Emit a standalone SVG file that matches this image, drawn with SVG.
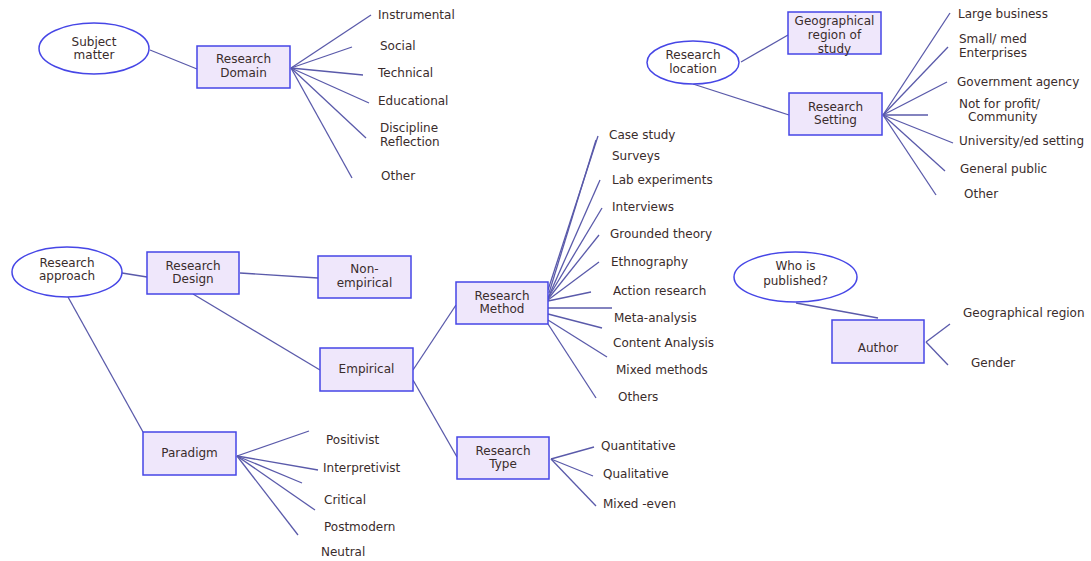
<svg xmlns="http://www.w3.org/2000/svg" width="1091" height="561" viewBox="0 0 1091 561">
<style>
text{font-family:"DejaVu Sans","Liberation Sans",sans-serif;font-size:12px;fill:#3a2c2c}
.c{text-anchor:middle}
.box{fill:#efe7fb;stroke:#4646e6;stroke-width:1.5}
.ell{fill:#ffffff;stroke:#4646e6;stroke-width:1.5}
.ln line{stroke:#5a5aaa;stroke-width:1.3}
</style>
<rect width="1091" height="561" fill="#ffffff"/>
<g id="connectors" class="ln">
<line x1="150" y1="50" x2="197" y2="69"/>
<line x1="291" y1="68" x2="371" y2="15"/>
<line x1="291" y1="68" x2="352" y2="47"/>
<line x1="291" y1="68" x2="363" y2="75"/>
<line x1="291" y1="68" x2="369" y2="103"/>
<line x1="291" y1="68" x2="366" y2="138"/>
<line x1="291" y1="68" x2="352" y2="178"/>
<line x1="741" y1="62" x2="788" y2="35"/>
<line x1="693" y1="84" x2="789" y2="115"/>
<line x1="883" y1="115" x2="950" y2="13"/>
<line x1="883" y1="115" x2="948" y2="47"/>
<line x1="883" y1="115" x2="947" y2="82"/>
<line x1="883" y1="115" x2="928" y2="115"/>
<line x1="883" y1="115" x2="953" y2="143"/>
<line x1="883" y1="115" x2="945" y2="171"/>
<line x1="883" y1="115" x2="936" y2="195"/>
<line x1="122" y1="273" x2="147" y2="277"/>
<line x1="240" y1="273" x2="318" y2="278"/>
<line x1="193" y1="294" x2="320" y2="370"/>
<line x1="68" y1="297" x2="143" y2="432"/>
<line x1="413" y1="370" x2="456" y2="305"/>
<line x1="413" y1="380" x2="457" y2="457"/>
<line x1="237" y1="456" x2="309" y2="431"/>
<line x1="237" y1="456" x2="318" y2="470"/>
<line x1="237" y1="456" x2="302" y2="483"/>
<line x1="237" y1="456" x2="315" y2="510"/>
<line x1="237" y1="456" x2="298" y2="535"/>
<line x1="551" y1="459" x2="594" y2="447"/>
<line x1="551" y1="459" x2="593" y2="476"/>
<line x1="551" y1="459" x2="596" y2="506"/>
<line x1="548" y1="290" x2="598" y2="136"/>
<line x1="549" y1="293" x2="596" y2="140"/>
<line x1="548" y1="298" x2="600" y2="180"/>
<line x1="548" y1="298" x2="602" y2="208"/>
<line x1="548" y1="299" x2="599" y2="235"/>
<line x1="548" y1="300" x2="599" y2="262"/>
<line x1="548" y1="301" x2="591" y2="292"/>
<line x1="548" y1="308" x2="612" y2="308"/>
<line x1="548" y1="314" x2="602" y2="328"/>
<line x1="548" y1="320" x2="607" y2="357"/>
<line x1="548" y1="324" x2="596" y2="398"/>
<line x1="796" y1="303" x2="878" y2="318"/>
<line x1="926" y1="342" x2="950" y2="324"/>
<line x1="926" y1="342" x2="948" y2="365"/>
</g>
<g id="subject-matter"><ellipse class="ell" cx="94" cy="48.5" rx="55" ry="25.5"/><text class="c" x="94" y="46">Subject</text><text class="c" x="94" y="59">matter</text></g>
<g id="research-domain"><rect class="box" x="197" y="46" width="93" height="42"/><text class="c" x="243.5" y="63">Research</text><text class="c" x="243.5" y="77">Domain</text></g>
<g id="domain-leaves">
<text x="378" y="19">Instrumental</text>
<text x="380" y="50">Social</text>
<text x="378" y="77">Technical</text>
<text x="378" y="105">Educational</text>
<text x="380" y="132">Discipline</text>
<text x="380" y="146">Reflection</text>
<text x="381" y="180">Other</text>
</g>
<g id="research-location"><ellipse class="ell" cx="693" cy="62.5" rx="46" ry="21.5"/><text class="c" x="693" y="59">Research</text><text class="c" x="693" y="73">location</text></g>
<g id="geo-region"><rect class="box" x="788" y="12" width="93" height="42"/><text class="c" x="834.5" y="25">Geographical</text><text class="c" x="834.5" y="39">region of</text><text class="c" x="834.5" y="53">study</text></g>
<g id="research-setting"><rect class="box" x="789" y="93" width="93" height="42"/><text class="c" x="835.5" y="111">Research</text><text class="c" x="835.5" y="124">Setting</text></g>
<g id="setting-leaves">
<text x="958" y="18">Large business</text>
<text x="959" y="43">Small/ med</text>
<text x="959" y="57">Enterprises</text>
<text x="957" y="86">Government agency</text>
<text x="959" y="108">Not for profit/</text>
<text x="968" y="121">Community</text>
<text x="959" y="145">University/ed setting</text>
<text x="960" y="173">General public</text>
<text x="964" y="198">Other</text>
</g>
<g id="research-approach"><ellipse class="ell" cx="67" cy="272" rx="55" ry="25"/><text class="c" x="67" y="267">Research</text><text class="c" x="67" y="280">approach</text></g>
<g id="research-design"><rect class="box" x="147" y="252" width="92" height="42"/><text class="c" x="193" y="270">Research</text><text class="c" x="193" y="283">Design</text></g>
<g id="non-empirical"><rect class="box" x="318" y="256" width="93" height="42"/><text class="c" x="364.5" y="273">Non-</text><text class="c" x="364.5" y="287">empirical</text></g>
<g id="empirical"><rect class="box" x="320" y="348" width="93" height="43"/><text class="c" x="366.5" y="373">Empirical</text></g>
<g id="paradigm"><rect class="box" x="143" y="432" width="93" height="43"/><text class="c" x="189.5" y="457">Paradigm</text></g>
<g id="paradigm-leaves">
<text x="326" y="444">Positivist</text>
<text x="323" y="472">Interpretivist</text>
<text x="324" y="504">Critical</text>
<text x="324" y="531">Postmodern</text>
<text x="321" y="556">Neutral</text>
</g>
<g id="research-method"><rect class="box" x="456" y="282" width="92" height="42"/><text class="c" x="502" y="300">Research</text><text class="c" x="502" y="313">Method</text></g>
<g id="method-leaves">
<text x="609" y="139">Case study</text>
<text x="612" y="160">Surveys</text>
<text x="612" y="184">Lab experiments</text>
<text x="612" y="211">Interviews</text>
<text x="610" y="238">Grounded theory</text>
<text x="611" y="266">Ethnography</text>
<text x="613" y="295">Action research</text>
<text x="614" y="322">Meta-analysis</text>
<text x="613" y="347">Content Analysis</text>
<text x="616" y="374">Mixed methods</text>
<text x="618" y="401">Others</text>
</g>
<g id="research-type"><rect class="box" x="457" y="437" width="92" height="42"/><text class="c" x="503" y="455">Research</text><text class="c" x="503" y="468">Type</text></g>
<g id="type-leaves">
<text x="601" y="450">Quantitative</text>
<text x="603" y="478">Qualitative</text>
<text x="603" y="508">Mixed -even</text>
</g>
<g id="who-published"><ellipse class="ell" cx="795.5" cy="277" rx="61.5" ry="25"/><text class="c" x="795.5" y="270">Who is</text><text class="c" x="795.5" y="285">published?</text></g>
<g id="author"><rect class="box" x="832" y="320" width="92" height="43"/><text class="c" x="878" y="352">Author</text></g>
<g id="author-leaves">
<text x="963" y="317">Geographical region</text>
<text x="971" y="367">Gender</text>
</g>
</svg>
